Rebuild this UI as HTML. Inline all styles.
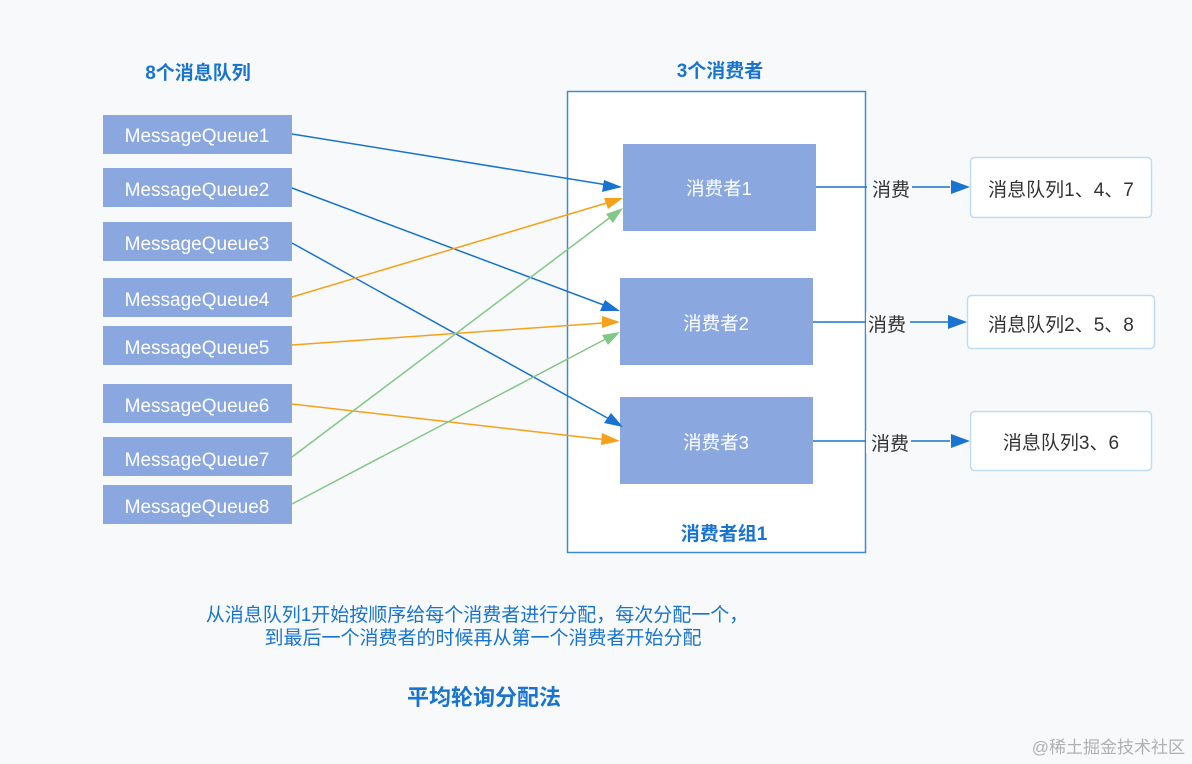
<!DOCTYPE html>
<html><head><meta charset="utf-8"><style>
html,body{margin:0;padding:0;background:#f8f9fa;}
svg{display:block;font-family:"Liberation Sans","Noto Sans CJK SC",sans-serif;}
</style></head><body>
<svg width="1192" height="764" viewBox="0 0 1192 764" xmlns="http://www.w3.org/2000/svg">
<rect width="1192" height="764" fill="#f8f9fa"/>
<text x="198" y="79" fill="#1874d0" font-size="19" font-weight="bold" text-anchor="middle">8个消息队列</text>
<text x="720" y="77" fill="#1874d0" font-size="19" font-weight="bold" text-anchor="middle">3个消费者</text>
<rect x="567.5" y="91.5" width="298" height="461" fill="#fff" stroke="#3d8bd6" stroke-width="1.5"/>
<text x="724" y="540" fill="#1874d0" font-size="19" font-weight="bold" text-anchor="middle">消费者组1</text>
<g fill="#8aa7e0">
<rect x="103" y="115" width="189" height="39"/>
<rect x="103" y="168" width="189" height="39"/>
<rect x="103" y="222" width="189" height="39"/>
<rect x="103" y="278" width="189" height="39"/>
<rect x="103" y="326" width="189" height="39"/>
<rect x="103" y="384" width="189" height="39"/>
<rect x="103" y="437" width="189" height="39"/>
<rect x="103" y="485" width="189" height="39"/>
<rect x="623" y="144" width="193" height="87"/>
<rect x="620" y="278" width="193" height="87"/>
<rect x="620" y="397" width="193" height="87"/>
</g>
<g fill="#fff" font-size="19" text-anchor="middle">
<text x="197" y="142">MessageQueue1</text>
<text x="197" y="196">MessageQueue2</text>
<text x="197" y="250">MessageQueue3</text>
<text x="197" y="306">MessageQueue4</text>
<text x="197" y="354">MessageQueue5</text>
<text x="197" y="412">MessageQueue6</text>
<text x="197" y="466">MessageQueue7</text>
<text x="197" y="513">MessageQueue8</text>
</g>
<g fill="#fff" font-size="18.5" text-anchor="middle">
<text x="719" y="195">消费者1</text>
<text x="716" y="330">消费者2</text>
<text x="716" y="449">消费者3</text>
</g>
<g stroke-width="1.5" fill="none">
<line x1="292" y1="134" x2="620" y2="187" stroke="#1874d0"/>
<polygon points="622,187 604,180 602,192" fill="#1874d0" stroke="none"/>
<line x1="292" y1="188" x2="617" y2="310" stroke="#1874d0"/>
<polygon points="620,311 605,300 600,311" fill="#1874d0" stroke="none"/>
<line x1="292" y1="243" x2="620" y2="425" stroke="#1874d0"/>
<polygon points="623,427 611,413 604,423" fill="#1874d0" stroke="none"/>
<line x1="292" y1="297" x2="620" y2="199" stroke="#f7a11a"/>
<polygon points="623,198 604,198 608,209" fill="#f7a11a" stroke="none"/>
<line x1="292" y1="345" x2="617" y2="322" stroke="#f7a11a"/>
<polygon points="620,322 602,316 602,328" fill="#f7a11a" stroke="none"/>
<line x1="292" y1="404" x2="617" y2="441" stroke="#f7a11a"/>
<polygon points="620,441 602,433 601,445" fill="#f7a11a" stroke="none"/>
<line x1="292" y1="457" x2="620" y2="210" stroke="#82c786"/>
<polygon points="623,208 606,214 613,223" fill="#82c786" stroke="none"/>
<line x1="292" y1="504" x2="617" y2="333" stroke="#82c786"/>
<polygon points="620,332 602,335 608,345" fill="#82c786" stroke="none"/>
</g>
<g stroke="#1874d0" stroke-width="1.5">
<line x1="816" y1="187" x2="950" y2="187"/>
<line x1="813" y1="322" x2="950" y2="322"/>
<line x1="813" y1="441" x2="950" y2="441"/>
</g>
<g fill="#1874d0">
<polygon points="970,187 951,180 951,194"/>
<polygon points="967,322 948,315 948,329"/>
<polygon points="970,441 951,434 951,448"/>
</g>
<g fill="#f8f9fa"><rect x="867" y="177" width="45" height="22"/><rect x="866" y="312" width="44" height="22"/><rect x="866" y="431" width="45" height="22"/></g>
<g fill="#333" font-size="19">
<text x="872" y="196">消费</text>
<text x="868" y="331">消费</text>
<text x="871" y="450">消费</text>
</g>
<g fill="#fff" stroke="#bfdcf4" stroke-width="1.5">
<rect x="970.5" y="157.5" width="181" height="60" rx="4"/>
<rect x="967.5" y="295.5" width="187" height="53" rx="4"/>
<rect x="970.5" y="411.5" width="181" height="59" rx="4"/>
</g>
<g fill="#333" font-size="19" text-anchor="middle">
<text x="1061" y="196">消息队列1、4、7</text>
<text x="1061" y="331">消息队列2、5、8</text>
<text x="1061" y="449">消息队列3、6</text>
</g>
<g fill="#1874d0" font-size="19" text-anchor="middle">
<text x="477" y="621">从消息队列1开始按顺序给每个消费者进行分配，每次分配一个，</text>
<text x="483" y="644">到最后一个消费者的时候再从第一个消费者开始分配</text>
</g>
<text x="484" y="705" fill="#1874d0" font-size="22" font-weight="bold" text-anchor="middle">平均轮询分配法</text>
<text x="1185" y="753" fill="#b0b0b0" font-size="17" text-anchor="end">@稀土掘金技术社区</text>
</svg>
</body></html>
